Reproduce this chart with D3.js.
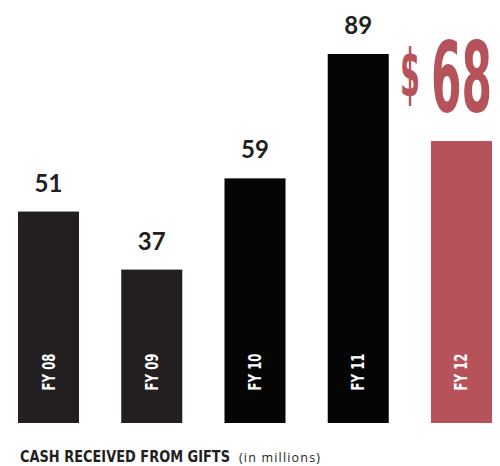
<!DOCTYPE html>
<html>
<head>
<meta charset="utf-8">
<script src="https://cdn.jsdelivr.net/npm/d3@7"></script>
<style>
  body { margin: 0; background: #fff; }
  svg { display: block; }
</style>
</head>
<body>
<svg></svg>
<script>
// data
const years = ["FY 08", "FY 09", "FY 10", "FY 11", "FY 12"];
const cash = [51, 37, 59, 89, 68];
const barColors = ["#231f20", "#231f20", "#050505", "#050505", "#b5525a"];

const Width = 500;
const Height = 466;
const condensed = '"DejaVu Sans Condensed", "Liberation Sans Narrow", sans-serif';

const svg = d3.select('svg')
  .attr('width', Width)
  .attr('height', Height);

// scales
const xScale = d3.scaleBand()
  .domain(years)
  .range([18, 492])
  .paddingInner(0.409)
  .paddingOuter(0);

const yScale = d3.scaleLinear()
  .domain([0, d3.max(cash)])
  .range([423, 54]);

const rows = years.map((y, i) => ({ year: y, value: cash[i], color: barColors[i] }));

// bars
svg.selectAll('.bar')
  .data(rows)
  .enter()
  .append('rect')
  .attr('class', 'bar')
  .attr('x', d => xScale(d.year))
  .attr('y', d => yScale(d.value))
  .attr('width', xScale.bandwidth())
  .attr('height', d => yScale(0) - yScale(d.value))
  .attr('fill', d => d.color);

// value labels (all but last)
svg.selectAll('.label')
  .data(rows.slice(0, -1))
  .enter()
  .append('text')
  .attr('class', 'label')
  .attr('x', d => xScale(d.year) + xScale.bandwidth() / 2)
  .attr('y', d => yScale(d.value) - 20)
  .attr('text-anchor', 'middle')
  .attr('font-family', 'Lato, "Open Sans", sans-serif')
  .attr('font-weight', 700)
  .attr('font-size', 24)
  .attr('fill', '#231f20')
  .text(d => d.value);

// highlighted last value: squeeze the text horizontally to fit a width
function squeezed(str, x, y, size, w) {
  const t = svg.append('text')
    .attr('font-family', condensed)
    .attr('font-weight', 700)
    .attr('font-size', size)
    .attr('fill', '#b5525a')
    .text(str);
  const sx = w / t.node().getComputedTextLength();
  t.attr('transform', `translate(${x}, ${y}) scale(${sx}, 1)`);
  return t;
}

const last = rows[rows.length - 1];
const lastLeft = xScale(last.year);
const base = yScale(last.value) - 29;

squeezed('$', lastLeft - 31, base - 16, 66, 20);
squeezed(String(last.value), lastLeft, base, 98, xScale.bandwidth());

// year labels inside bars
svg.selectAll('.year')
  .data(rows)
  .enter()
  .append('text')
  .attr('class', 'year')
  .attr('transform', d => `translate(${xScale(d.year) + xScale.bandwidth() / 2}, 372) rotate(-90)`)
  .attr('text-anchor', 'middle')
  .attr('dominant-baseline', 'central')
  .attr('font-family', condensed)
  .attr('font-weight', 700)
  .attr('font-size', 17)
  .attr('textLength', 37)
  .attr('lengthAdjust', 'spacingAndGlyphs')
  .attr('fill', '#fff')
  .text(d => d.year);

// caption
svg.append('text')
  .attr('x', 20)
  .attr('y', 462)
  .attr('font-family', condensed)
  .attr('font-weight', 700)
  .attr('font-size', 15.5)
  .attr('textLength', 210)
  .attr('lengthAdjust', 'spacingAndGlyphs')
  .attr('fill', '#231f20')
  .text('CASH RECEIVED FROM GIFTS');

svg.append('text')
  .attr('x', 239)
  .attr('y', 462)
  .attr('font-family', '"Open Sans", sans-serif')
  .attr('font-size', 12.5)
  .attr('textLength', 81)
  .attr('fill', '#231f20')
  .text('(in millions)');
</script>
</body>
</html>
